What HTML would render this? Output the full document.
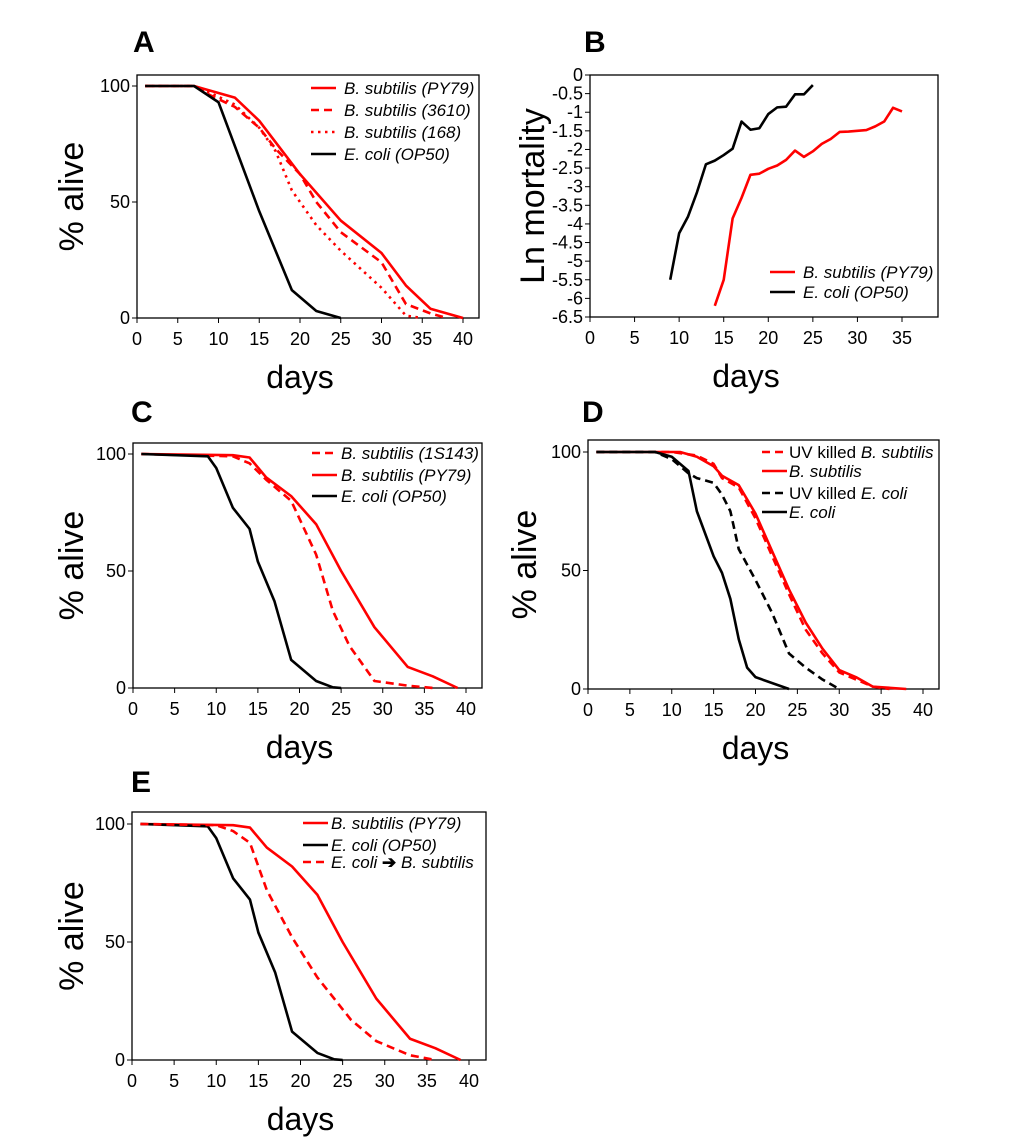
<!DOCTYPE html>
<html><head><meta charset="utf-8"><style>
body{margin:0;background:#fff;width:1020px;height:1143px;overflow:hidden;font-family:"Liberation Sans",sans-serif}
svg text{font-family:"Liberation Sans",sans-serif}
</style></head><body>
<svg id="fig" width="1020" height="1143" xmlns="http://www.w3.org/2000/svg"></svg>
<script>
// Panel A data
const aPY79=[[1,100],[7,100],[8,99],[10,97],[12,95],[15,85],[20,62],[25,42],[30,28],[33,14],[36,4],[40,0]];
const a3610=[[1,100],[7,100],[9,96],[12,91],[15,82],[17,73],[20,62],[22,50],[25,37],[30,24],[33,6],[36,2],[38,0]];
const a168=[[1,100],[7,100],[9,97],[12,92],[15,82],[17,72],[19,55],[22,40],[25,29],[30,13],[33,1],[35,0]];
const aOP50=[[1,100],[7,100],[10,93],[15,46],[19,12],[22,3],[25,0]];
// Panel B data
const bOP50=[[9,-5.5],[10,-4.25],[11,-3.8],[12,-3.15],[13,-2.4],[14,-2.3],[15,-2.15],[16,-1.98],[17,-1.25],[18,-1.47],[19,-1.43],[20,-1.05],[21,-0.87],[22,-0.85],[23,-0.52],[24,-0.52],[25,-0.27]];
const bPY79=[[14,-6.2],[15,-5.5],[16,-3.85],[17,-3.3],[18,-2.68],[19,-2.65],[20,-2.52],[21,-2.43],[22,-2.28],[23,-2.03],[24,-2.2],[25,-2.05],[26,-1.85],[27,-1.72],[28,-1.53],[29,-1.52],[31,-1.48],[32,-1.38],[33,-1.25],[34,-0.88],[35,-0.98]];
// Panel C data
const cOP50=[[1,100],[9,99],[10,94],[12,77],[14,68],[15,54],[17,37],[19,12],[22,3],[24,0.3],[25,0]];
const cPY79=[[1,100],[12,99.5],[14,98.5],[16,90],[19,82],[22,70],[25,50],[29,26],[33,9],[36,5],[39,0]];
const c1S143=[[1,100],[12,99],[14,96],[16,89],[19,80],[22,57],[24,33],[26,18],[29,3],[33,1],[36,0]];
// Panel D data
const dEcoli=[[1,100],[8,100],[10,98],[12,92],[13,75],[15,56],[16,49],[17,38],[18,21],[19,9],[20,5],[24,0]];
const dUVEcoli=[[1,100],[8,100],[10,97],[12,91],[13,89],[15,87],[16,82],[17,75],[18,59],[20,46],[22,32],[24,15],[26,9],[28,4],[30,0]];
const dBsub=[[1,100],[11,100],[13,98],[15,94],[16,90],[18,86],[20,74],[22,58],[24,42],[26,28],[28,17],[30,8],[32,5],[34,1],[38,0]];
const dUVBsub=[[1,100],[10,100],[13,98.5],[15,95],[16,89],[18,85],[20,72],[22,56],[24,40],[26,25],[28,15],[30,7],[32,4],[34,1],[36,0]];
// Panel E data
const eSwitch=[[1,100],[10,99.5],[12,97],[14,92],[16,72],[19,52],[22,35],[26,17],[29,8],[33,2],[36,0]];
const xTicks40=[0,5,10,15,20,25,30,35,40];
const xTicks35=[0,5,10,15,20,25,30,35];
const yTicksPct=[0,50,100];
const yTicksLn=[0,-0.5,-1,-1.5,-2,-2.5,-3,-3.5,-4,-4.5,-5,-5.5,-6,-6.5];

const NS="http://www.w3.org/2000/svg";
const svg=document.getElementById('fig');
function mk(tag,attrs,parent){const e=document.createElementNS(NS,tag);for(const k in attrs)e.setAttribute(k,attrs[k]);(parent||svg).appendChild(e);return e;}
const RED="#ff0000",BLK="#000";
const DASH={solid:"",dash:"8,5",dot:"2.5,4.5"};

function panel(p){
  const g=mk('g',{});
  
  
  const X=v=>p.x0+(v-p.xmin)*(p.x1-p.x0)/(p.xmax-p.xmin);
  const Y=v=>p.y0+(v-p.ymin)*(p.y1-p.y0)/(p.ymax-p.ymin);
  const fr=mk('rect',{x:p.bl,y:p.bt,width:p.br-p.bl,height:p.bb-p.bt,fill:'none',stroke:'#000','stroke-width':1.3},g);
  
  
  p.xt.forEach(t=>{
    mk('line',{x1:X(t),x2:X(t),y1:p.bb,y2:p.bb+5,stroke:'#000','stroke-width':1},g);
    const tx=mk('text',{x:X(t),y:p.bb+27,'font-size':18,'text-anchor':'middle'},g);
    tx.textContent=t;
    
    
  });
  p.yt.forEach(t=>{
    mk('line',{x1:p.bl-5,x2:p.bl,y1:Y(t),y2:Y(t),stroke:'#000','stroke-width':1},g);
    const tx=mk('text',{x:p.bl-7,y:Y(t)+6,'font-size':18,'text-anchor':'end'},g);
    tx.textContent=t;
    
    
  });
  p.series.forEach(s=>{
    const pl=mk('polyline',{points:s.d.map(q=>X(q[0])+','+Y(q[1])).join(' '),fill:'none',stroke:s.c,'stroke-width':2.6,'stroke-dasharray':DASH[s.st],'stroke-linejoin':'round'},g);
    
    
  });
  p.series.forEach((s,i)=>{
    const ly=p.leg[i];
    const lg=mk('g',{},g);
    
    
    mk('line',{x1:p.lx,x2:p.lx+25,y1:ly,y2:ly,stroke:s.c,'stroke-width':2.6,'stroke-dasharray':DASH[s.st]},lg);
    const t=mk('text',{x:p.lx+(p.lgap||33),y:ly+6,'font-size':17},lg);
    t.innerHTML=s.label;
  });
  const lt=mk('text',{x:p.lt[0],y:p.lt[1],'font-size':30,'font-weight':'bold'},g);
  lt.textContent=p.id;
  
  
  const xl=mk('text',{x:(p.x0+p.x1)/2,y:p.bb+70,'font-size':32,'text-anchor':'middle'},g);
  xl.textContent='days';
  
  
  const cy=(p.bt+p.bb)/2;
  const yl=mk('text',{x:p.ylx,y:cy,'font-size':34,'text-anchor':'middle',transform:`rotate(-90 ${p.ylx} ${cy})`},g);
  yl.textContent=p.ytitle;
  
  
}
const I=s=>`<tspan font-style="italic">${s}</tspan>`;

panel({id:'A',xmin:0,xmax:40,x0:137,x1:463,ymin:0,ymax:100,y0:318,y1:86,bl:137,br:479,bt:75,bb:318,xt:xTicks40,yt:yTicksPct,
  lx:311,leg:[88,110,132,154],lt:[133,52],ylx:83,ytitle:'% alive',
  series:[{n:'py79',d:aPY79,c:RED,st:'solid',label:I('B. subtilis (PY79)')},{n:'3610',d:a3610,c:RED,st:'dash',label:I('B. subtilis (3610)')},
  {n:'168',d:a168,c:RED,st:'dot',label:I('B. subtilis (168)')},{n:'op50',d:aOP50,c:BLK,st:'solid',label:I('E. coli (OP50)')}]});
panel({id:'B',xmin:0,xmax:35,x0:590,x1:902,ymin:0,ymax:-6.5,y0:75,y1:317,bl:590,br:938,bt:75,bb:317,xt:xTicks35,yt:yTicksLn,
  lx:770,leg:[272,292],lt:[584,52],ylx:544,ytitle:'Ln mortality',
  series:[{n:'py79',d:bPY79,c:RED,st:'solid',label:I('B. subtilis (PY79)')},{n:'op50',d:bOP50,c:BLK,st:'solid',label:I('E. coli (OP50)')}]});
panel({id:'C',xmin:0,xmax:40,x0:133,x1:466,ymin:0,ymax:100,y0:688,y1:454,bl:133,br:482,bt:443,bb:688,xt:xTicks40,yt:yTicksPct,
  lx:312,leg:[453,475,496],lt:[131,422],ylx:83,ytitle:'% alive',lgap:29,
  series:[{n:'1s143',d:c1S143,c:RED,st:'dash',label:I('B. subtilis (1S143)')},{n:'py79',d:cPY79,c:RED,st:'solid',label:I('B. subtilis (PY79)')},{n:'op50',d:cOP50,c:BLK,st:'solid',label:I('E. coli (OP50)')}]});
panel({id:'D',xmin:0,xmax:40,x0:588,x1:923,ymin:0,ymax:100,y0:689,y1:452,bl:588,br:939,bt:440,bb:689,xt:xTicks40,yt:yTicksPct,
  lx:762,leg:[452,471,493,512],lt:[582,422],ylx:536,ytitle:'% alive',lgap:27,
  series:[{n:'uv-bsub',d:dUVBsub,c:RED,st:'dash',label:'UV killed '+I('B. subtilis')},{n:'bsub',d:dBsub,c:RED,st:'solid',label:I('B. subtilis')},
  {n:'uv-ecoli',d:dUVEcoli,c:BLK,st:'dash',label:'UV killed '+I('E. coli')},{n:'ecoli',d:dEcoli,c:BLK,st:'solid',label:I('E. coli')}]});
panel({id:'E',xmin:0,xmax:40,x0:132,x1:469,ymin:0,ymax:100,y0:1060,y1:824,bl:132,br:486,bt:812,bb:1060,xt:xTicks40,yt:yTicksPct,
  lx:303,leg:[823,845,862],lt:[131,792],ylx:83,ytitle:'% alive',lgap:28,
  series:[{n:'py79',d:cPY79,c:RED,st:'solid',label:I('B. subtilis (PY79)')},{n:'op50',d:cOP50,c:BLK,st:'solid',label:I('E. coli (OP50)')},
  {n:'switch',d:eSwitch,c:RED,st:'dash',label:I('E. coli')+' <tspan font-weight="bold">➔</tspan> '+I('B. subtilis')}]});
</script>
</body></html>
